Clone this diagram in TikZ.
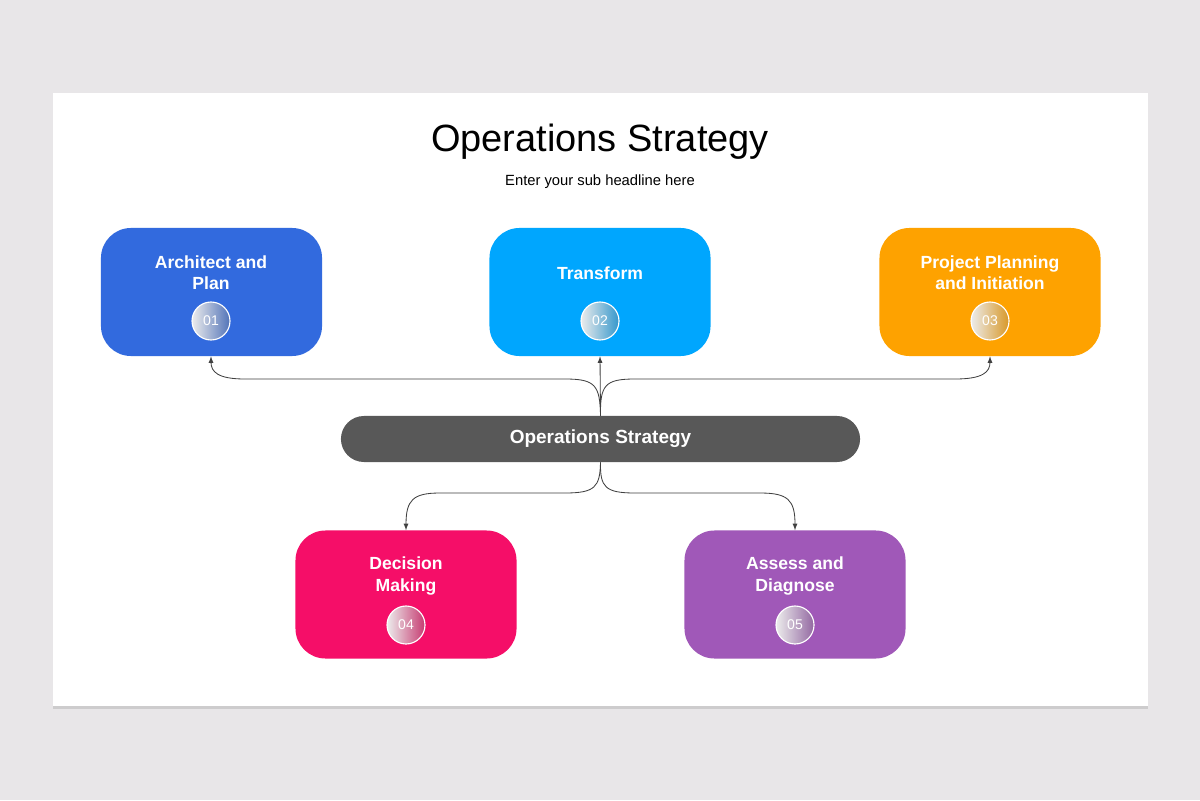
\documentclass[tikz,border=0pt]{standalone}
\usepackage{fontspec}
\setmainfont{Liberation Sans}
\usetikzlibrary{positioning,shadows}
\definecolor{bgray}{RGB}{232,230,232}
\definecolor{cblue}{RGB}{50,106,222}
\definecolor{ccyan}{RGB}{0,166,254}
\definecolor{corange}{RGB}{254,162,0}
\definecolor{cpink}{RGB}{245,14,104}
\definecolor{cpurple}{RGB}{160,88,184}
\definecolor{cbar}{RGB}{88,88,88}
\tikzset{
  box/.style={rounded corners=0.75cm,minimum width=5.525cm,minimum height=3.2cm,inner sep=0pt},
  lbl/.style={text=white,font=\bfseries\fontsize{12.5}{15}\selectfont,align=center},
  num/.style={circle,draw=white,line width=0.8pt,minimum size=0.95cm,inner sep=0pt,
    left color=white!85!gray,right color=#1,text=white,font=\fontsize{10}{12}\selectfont},
  arr/.style={->,>=latex,draw=black!75,line width=0.6pt}
}
\begin{document}
\begin{tikzpicture}[x=0.025cm,y=-0.025cm]
\useasboundingbox (0,0) rectangle (1200,800);
\fill[bgray] (0,0) rectangle (1200,800);
\fill[white,drop shadow={opacity=0.25,shadow xshift=0pt,shadow yshift=-2pt}] (53,93) rectangle (1148,706);
% title
\node (title) at (600,142) {\fontsize{27}{30}\selectfont Operations Strategy};
\node (sub) at (600,182) {\fontsize{10.5}{12}\selectfont Enter your sub headline here};
% boxes
\node[box,fill=cblue]   (b1) at (211.5,292) {};
\node[box,fill=ccyan]   (b2) at (600,292) {};
\node[box,fill=corange] (b3) at (990,292) {};
\node[box,fill=cpink]   (b4) at (406,594.5) {};
\node[box,fill=cpurple] (b5) at (795,594.5) {};
\node[lbl] (t1) at (211,273) {Architect and\\Plan};
\node[lbl] (t2) at (600,273) {Transform};
\node[lbl] (t3) at (990,273) {Project Planning\\and Initiation};
\node[lbl] (t4) at (406,576) {Decision\\Making};
\node[lbl] (t5) at (795,576) {Assess and\\Diagnose};
\node[num=cblue!60!gray]   (n1) at (211,321) {01};
\node[num=ccyan!60!gray]   (n2) at (600,321) {02};
\node[num=corange!70!gray] (n3) at (990,321) {03};
\node[num=cpink!60!gray]   (n4) at (406,625) {04};
\node[num=cpurple!60!gray] (n5) at (795,625) {05};
% centre bar
\node[fill=cbar,rounded corners=0.575cm,minimum width=12.975cm,minimum height=1.15cm,
  text=white,font=\bfseries\fontsize{13.5}{16}\selectfont] (bar) at (600.5,439) {Operations Strategy};
% connectors
\draw[arr] (bar.north) -- (b2.south);
\draw[arr] (bar.north) .. controls (600,385) and (595,379) .. (565,379) -- (245,379)
  .. controls (218,379) and (211,372) .. (b1.south -| n1);
\draw[arr] (bar.north) .. controls (600,385) and (605,379) .. (635,379) -- (955,379)
  .. controls (983,379) and (990,372) .. (b3.south -| n3);
\draw[arr] (bar.south) .. controls (600,487) and (595,493) .. (565,493) -- (440,493)
  .. controls (413,493) and (406,500) .. (b4.north);
\draw[arr] (bar.south) .. controls (600,487) and (605,493) .. (635,493) -- (760,493)
  .. controls (788,493) and (795,500) .. (b5.north);
\end{tikzpicture}
\end{document}
